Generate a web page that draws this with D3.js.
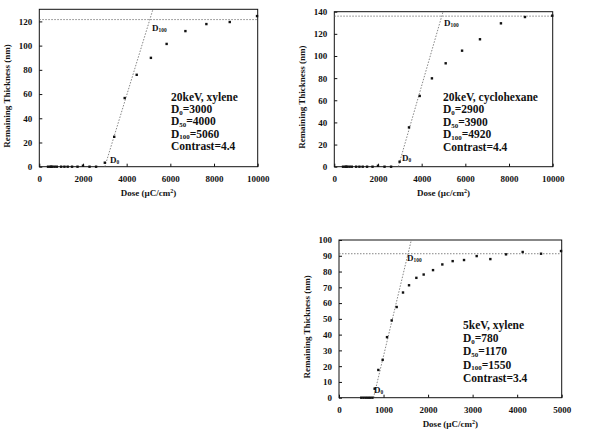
<!DOCTYPE html>
<html>
<head>
<meta charset="utf-8">
<script src="https://cdn.jsdelivr.net/npm/d3@7"></script>
<style>
  body { margin: 0; background: #fff; }
  svg text { font-family: "Liberation Serif", "Times New Roman", "DejaVu Serif", serif !important; font-weight: bold; fill: #111; }
</style>
</head>
<body>
<div id="chart"></div>
<script>
// 20 keV, xylene
const doseA = [400, 500, 550, 600, 700, 800, 1000, 1150, 1300, 1500, 1750, 2000, 2300, 2600,
  3000, 3430, 3910, 4460, 5110, 5830, 6690, 7650, 8720, 9970];
const thickA = [0, 0, 0, 0, 0, 0, 0, 0, 0, 0, 0, 0.8, 0, 0,
  3.3, 24.7, 56.7, 75.9, 89.9, 101.4, 112, 117.8, 119.5, 124.4];
const infoA = ["20keV, xylene", ["D", "0", "=3000"], ["D", "50", "=4000"], ["D", "100", "=5060"], "Contrast=4.4"];

// 20 keV, cyclohexane
const doseB = [400, 500, 550, 600, 700, 800, 1000, 1150, 1300, 1500, 1750, 2000, 2300, 2600,
  2990, 3420, 3910, 4470, 5100, 5850, 6670, 7630, 8730, 9980];
const thickB = [0, 0, 0, 0, 0, 0, 0, 0, 0, 0, 0, 0.8, 0, 0,
  4.5, 35.5, 63.9, 79.8, 93.4, 104.8, 115.1, 129.5, 135.2, 136.4];
const infoB = ["20keV, cyclohexane", ["D", "0", "=2900"], ["D", "50", "=3900"], ["D", "100", "=4920"], "Contrast=4.4"];

// 5 keV, xylene
const doseC = [500, 550, 600, 650, 700, 750,
  800, 883, 980, 1078, 1183, 1295, 1437, 1572, 1737, 1901, 2111, 2320, 2552, 2807,
  3091, 3398, 3750, 4124, 4536, 4985];
const thickC = [0, 0, 0, 0, 0, 0,
  5.7, 17.6, 24, 38.4, 49, 57.5, 66.7, 71.3, 76, 78.1, 80.9, 84.5, 86.6, 87.3,
  89.8, 87.9, 90.9, 92.4, 91.3, 93];
const infoC = ["5keV, xylene", ["D", "0", "=780"], ["D", "50", "=1170"], ["D", "100", "=1550"], "Contrast=3.4"];

const panels = [
  { dose: doseA, thick: thickA, info: infoA, d0: 3000, d100: 5060, plateau: 121.5,
    box: [39.3, 9.3, 257.7, 166.7], xMax: 10000, xTicks: [0, 2000, 4000, 6000, 8000, 10000],
    yMax: 130, yTicks: [0, 20, 40, 60, 80, 100, 120], xTitle: "Dose (\u00b5C/cm", textPos: [171, 101], lineGap: 12.2,
    d100Lbl: [152, 31], d0Lbl: [110, 166] },
  { dose: doseB, thick: thickB, info: infoB, d0: 2930, d100: 4920, plateau: 136,
    box: [334.3, 11.7, 552.7, 166.7], xMax: 10000, xTicks: [0, 2000, 4000, 6000, 8000, 10000],
    yMax: 140, yTicks: [0, 20, 40, 60, 80, 100, 120, 140], xTitle: "Dose (\u00b5c/cm", textPos: [443, 101], lineGap: 12.4,
    d100Lbl: [444, 26], d0Lbl: [402, 164] },
  { dose: doseC, thick: thickC, info: infoC, d0: 775, d100: 1550, plateau: 91.3,
    box: [339, 240, 561.7, 397.7], xMax: 5000, xTicks: [0, 1000, 2000, 3000, 4000, 5000],
    yMax: 100, yTicks: [0, 10, 20, 30, 40, 50, 60, 70, 80, 90, 100], xTitle: "Dose (\u00b5C/cm", textPos: [463, 329], lineGap: 13.2,
    d100Lbl: [407, 261], d0Lbl: [374, 396] }
];

const FONT = "'Liberation Serif', 'Times New Roman', serif";

const svg = d3.select("#chart").append("svg")
  .attr("width", 600)
  .attr("height", 443)
  .attr("font-family", FONT);

function subLabel(g, x, y, parts, size) {
  const t = g.append("text").attr("x", x).attr("y", y).attr("font-size", size);
  t.append("tspan").text(parts[0]);
  t.append("tspan").attr("font-size", size * 0.6).attr("dy", size * 0.15).text(parts[1]);
  if (parts[2]) t.append("tspan").attr("dy", -size * 0.15).text(parts[2]);
  return t;
}

panels.forEach(p => {
  const [x0, y0, x1, y1] = p.box;
  const x = d3.scaleLinear().domain([0, p.xMax]).range([x0, x1]);
  const y = d3.scaleLinear().domain([0, p.yMax]).range([y1, y0]);
  const g = svg.append("g");

  // frame
  g.append("rect")
    .attr("x", x0).attr("y", y0)
    .attr("width", x1 - x0).attr("height", y1 - y0)
    .attr("fill", "none").attr("stroke", "#111").attr("stroke-width", 1);

  // axes (inward ticks)
  const xAxis = g.append("g").attr("transform", `translate(0,${y1})`)
    .call(d3.axisBottom(x).tickValues(p.xTicks).tickFormat(d3.format("d"))
      .tickSizeInner(-3).tickSizeOuter(0).tickPadding(9));
  const yAxis = g.append("g").attr("transform", `translate(${x0},0)`)
    .call(d3.axisLeft(y).tickValues(p.yTicks).tickFormat(d3.format("d"))
      .tickSizeInner(-3).tickSizeOuter(0).tickPadding(7));
  [xAxis, yAxis].forEach(a => {
    a.attr("font-family", FONT);
    a.select(".domain").remove();
    a.selectAll("line").attr("stroke", "#111");
    a.selectAll("text").attr("font-size", 9).attr("font-weight", "bold").attr("fill", "#111");
  });

  // axis titles
  const xt = g.append("text")
    .attr("x", (x0 + x1) / 2).attr("y", y1 + 29)
    .attr("text-anchor", "middle").attr("font-size", 9);
  xt.append("tspan").text(p.xTitle);
  xt.append("tspan").attr("font-size", 6).attr("dy", -3).text("2");
  xt.append("tspan").attr("dy", 3).text(")");

  g.append("text")
    .attr("transform", `translate(${x0 - 29},${(y0 + y1) / 2 + 8}) rotate(-90)`)
    .attr("text-anchor", "middle").attr("font-size", 9)
    .text("Remaining Thickness (nm)");

  // guide lines
  g.append("line")
    .attr("x1", x0).attr("x2", x1)
    .attr("y1", y(p.plateau)).attr("y2", y(p.plateau))
    .attr("stroke", "#666").attr("stroke-width", 0.8).attr("stroke-dasharray", "1.5,1.5");
  const slope = p.plateau / (p.d100 - p.d0);
  g.append("line")
    .attr("x1", x(p.d0)).attr("y1", y(0))
    .attr("x2", x(p.d0 + p.yMax / slope)).attr("y2", y(p.yMax))
    .attr("stroke", "#666").attr("stroke-width", 0.8).attr("stroke-dasharray", "1.5,1.5");

  // points
  g.selectAll("rect.pt")
    .data(p.dose.map((d, i) => [d, p.thick[i]]))
    .join("rect")
    .attr("class", "pt")
    .attr("x", d => x(d[0]) - 1.2)
    .attr("y", d => y(d[1]) - 1.2)
    .attr("width", 2.4).attr("height", 2.4)
    .attr("fill", "#111");

  // D labels
  subLabel(g, p.d100Lbl[0], p.d100Lbl[1], ["D", "100"], 9);
  subLabel(g, p.d0Lbl[0], p.d0Lbl[1] - 3, ["D", "0"], 9);

  // info block
  p.info.forEach((line, i) => {
    const ty = p.textPos[1] + i * p.lineGap;
    if (typeof line === "string") {
      g.append("text").attr("x", p.textPos[0]).attr("y", ty).attr("font-size", 11.5).text(line);
    } else {
      subLabel(g, p.textPos[0], ty, line, 11.5);
    }
  });
});
</script>
</body>
</html>
